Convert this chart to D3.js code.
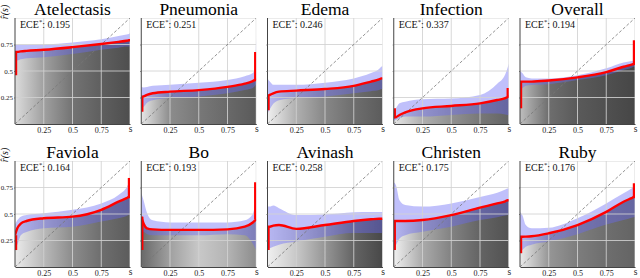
<!DOCTYPE html>
<html><head><meta charset="utf-8">
<script src="https://cdn.jsdelivr.net/npm/d3@7/dist/d3.min.js"></script>
<style>html,body{margin:0;padding:0;background:#fff;overflow:hidden}</style>
</head><body><svg id="c" width="640" height="278"></svg>
<script>
const titles = ["Atelectasis","Pneumonia","Edema","Infection","Overall","Faviola","Bo","Avinash","Christen","Ruby"];
const eceValues = ["0.195","0.251","0.246","0.337","0.194","0.164","0.193","0.258","0.175","0.176"];
const xGrid = [0, 0.02, 0.05, 0.1, 0.25, 0.5, 0.75, 0.9, 0.97, 0.99, 1];
const redCurves = [
  [0.68, 0.68, 0.685, 0.69, 0.70, 0.725, 0.755, 0.775, 0.785, 0.79, 0.79],
  [0.255, 0.26, 0.275, 0.29, 0.305, 0.32, 0.35, 0.38, 0.405, 0.415, 0.415],
  [0.26, 0.275, 0.29, 0.305, 0.315, 0.33, 0.36, 0.40, 0.42, 0.43, 0.43],
  [0.06, 0.065, 0.085, 0.11, 0.148, 0.17, 0.195, 0.226, 0.245, 0.255, 0.26],
  [0.40, 0.40, 0.40, 0.40, 0.41, 0.44, 0.49, 0.54, 0.56, 0.566, 0.57],
  [0.30, 0.365, 0.41, 0.434, 0.46, 0.475, 0.54, 0.616, 0.65, 0.66, 0.66],
  [0.475, 0.41, 0.365, 0.355, 0.35, 0.35, 0.355, 0.38, 0.42, 0.44, 0.45],
  [0.38, 0.38, 0.39, 0.396, 0.36, 0.396, 0.434, 0.45, 0.455, 0.455, 0.455],
  [0.434, 0.434, 0.434, 0.434, 0.443, 0.49, 0.56, 0.60, 0.62, 0.63, 0.63],
  [0.286, 0.286, 0.287, 0.29, 0.318, 0.396, 0.52, 0.616, 0.65, 0.66, 0.66]
];
const upperBands = [
  [0.745, 0.745, 0.745, 0.745, 0.75, 0.77, 0.80, 0.83, 0.845, 0.85, 0.855],
  [0.35, 0.345, 0.35, 0.36, 0.37, 0.39, 0.415, 0.45, 0.48, 0.55, 0.85],
  [0.43, 0.40, 0.37, 0.37, 0.37, 0.39, 0.43, 0.48, 0.52, 0.54, 0.55],
  [0.12, 0.15, 0.195, 0.21, 0.233, 0.24, 0.274, 0.38, 0.47, 0.53, 0.57],
  [0.50, 0.48, 0.44, 0.43, 0.43, 0.46, 0.525, 0.58, 0.595, 0.60, 0.60],
  [0.40, 0.44, 0.475, 0.49, 0.507, 0.54, 0.60, 0.68, 0.75, 0.79, 0.80],
  [0.70, 0.63, 0.51, 0.44, 0.42, 0.42, 0.42, 0.44, 0.50, 0.62, 0.76],
  [0.57, 0.57, 0.58, 0.555, 0.49, 0.495, 0.516, 0.52, 0.52, 0.52, 0.52],
  [0.80, 0.77, 0.63, 0.585, 0.57, 0.60, 0.66, 0.70, 0.73, 0.74, 0.74],
  [0.52, 0.49, 0.396, 0.365, 0.37, 0.46, 0.60, 0.695, 0.74, 0.755, 0.76]
];
const lowerBands = [
  [0.60, 0.60, 0.61, 0.62, 0.63, 0.66, 0.70, 0.72, 0.73, 0.73, 0.73],
  [0.15, 0.16, 0.20, 0.225, 0.245, 0.26, 0.29, 0.32, 0.34, 0.36, 0.38],
  [0.10, 0.14, 0.19, 0.225, 0.245, 0.26, 0.29, 0.31, 0.32, 0.33, 0.33],
  [0.03, 0.04, 0.055, 0.07, 0.07, 0.085, 0.10, 0.10, 0.09, 0.085, 0.085],
  [0.32, 0.337, 0.36, 0.368, 0.376, 0.415, 0.46, 0.51, 0.53, 0.54, 0.54],
  [0.17, 0.21, 0.30, 0.33, 0.365, 0.38, 0.43, 0.46, 0.48, 0.49, 0.49],
  [0.30, 0.33, 0.31, 0.30, 0.30, 0.30, 0.31, 0.30, 0.22, 0.18, 0.16],
  [0.16, 0.176, 0.19, 0.21, 0.24, 0.286, 0.32, 0.32, 0.32, 0.32, 0.32],
  [0.18, 0.21, 0.27, 0.30, 0.333, 0.38, 0.443, 0.47, 0.485, 0.49, 0.49],
  [0.14, 0.16, 0.19, 0.21, 0.24, 0.31, 0.40, 0.443, 0.465, 0.47, 0.475]
];
const redStarts = [0.46, 0.116, 0.13, 0.148, 0.148, 0.16, 0.16, 0.16, 0.16, 0.13];
const redEnds = [null, 0.68, null, 0.34, 0.79, 0.84, 0.80, null, null, 0.79];
const shadeStops = [0, 0.25, 0.5, 0.75, 1];
const shadeLevels = [
  [220, 160, 115, 95, 78],
  [230, 140, 120, 105, 90],
  [240, 175, 135, 110, 92],
  [230, 175, 145, 120, 100],
  [190, 110, 90, 80, 70],
  [235, 185, 140, 110, 92],
  [105, 160, 200, 180, 140],
  [240, 200, 150, 100, 72],
  [240, 170, 130, 100, 82],
  [235, 150, 125, 110, 100]
];
const xTickValues = [0.25, 0.5, 0.75, 1];
const xTickLabels = ["0.25", "0.5", "0.75", "s"];
const yTickValues = [0.25, 0.5, 0.75];
const yTickLabels = ["0.25", "0.5", "0.75"];

const FONT = "Liberation Serif, DejaVu Serif, serif";
const svg = d3.select("#c");
const defs = svg.append("defs");
const W = 115, H = 106;

titles.forEach((title, i) => {
  const col = i % 5, row = Math.floor(i / 5);
  const x0 = 15 + col * 126.25;
  const yBottom = row === 0 ? 124 : 267;
  const x = d3.scaleLinear().domain([0, 1]).range([x0, x0 + W]);
  const y = d3.scaleLinear().domain([0, 1]).range([yBottom, yBottom - H]);
  const g = svg.append("g");

  defs.append("clipPath").attr("id", "clip" + i)
    .append("rect").attr("x", x(0)).attr("y", y(1)).attr("width", W).attr("height", H);
  const grad = defs.append("linearGradient").attr("id", "grad" + i)
    .attr("gradientUnits", "userSpaceOnUse")
    .attr("x1", x(0)).attr("x2", x(1)).attr("y1", 0).attr("y2", 0);
  shadeStops.forEach((s, k) => {
    const v = shadeLevels[i][k];
    grad.append("stop").attr("offset", s).attr("stop-color", d3.rgb(v, v, v));
  });

  const pts = xGrid.map((xv, k) => ({x: xv, r: redCurves[i][k], lo: lowerBands[i][k], hi: upperBands[i][k]}));
  const inner = g.append("g").attr("clip-path", `url(#clip${i})`);

  inner.append("path").datum(pts)
    .attr("fill", `url(#grad${i})`)
    .attr("d", d3.area().curve(d3.curveMonotoneX).x(d => x(d.x)).y0(y(0)).y1(d => y(d.r)));

  inner.append("path").datum(pts)
    .attr("fill", "rgba(105,105,245,0.42)")
    .attr("d", d3.area().curve(d3.curveMonotoneX).x(d => x(d.x)).y0(d => y(d.lo)).y1(d => y(d.hi)));

  const gridX = xTickValues, gridY = yTickValues.concat([1]);
  inner.selectAll(".gx").data(gridX).join("line")
    .attr("x1", d => x(d)).attr("x2", d => x(d)).attr("y1", y(0)).attr("y2", y(1))
    .attr("stroke", "#d2d2d2").attr("stroke-width", 1).attr("opacity", 0.85);
  inner.selectAll(".gy").data(gridY).join("line")
    .attr("x1", x(0)).attr("x2", x(1)).attr("y1", d => y(d)).attr("y2", d => y(d))
    .attr("stroke", "#d2d2d2").attr("stroke-width", 1).attr("opacity", 0.85);

  inner.append("line").attr("x1", x(0)).attr("y1", y(0)).attr("x2", x(1)).attr("y2", y(1))
    .attr("stroke", "#777").attr("stroke-width", 0.8).attr("stroke-dasharray", "3,2");

  inner.append("path").datum(pts)
    .attr("fill", "none").attr("stroke", "#ff0000").attr("stroke-width", 2.4)
    .attr("d", d3.line().curve(d3.curveMonotoneX).x(d => x(d.x)).y(d => y(d.r)));
  inner.append("line").attr("x1", x(0) + 1).attr("x2", x(0) + 1)
    .attr("y1", y(redStarts[i])).attr("y2", y(redCurves[i][0]))
    .attr("stroke", "#ff0000").attr("stroke-width", 2.4);
  if (redEnds[i] !== null) {
    inner.append("line").attr("x1", x(1) - 1).attr("x2", x(1) - 1)
      .attr("y1", y(redCurves[i][xGrid.length - 1])).attr("y2", y(redEnds[i]))
      .attr("stroke", "#ff0000").attr("stroke-width", 2.4);
  }

  const ax = g.append("g").attr("transform", `translate(0,${y(0)})`)
    .call(d3.axisBottom(x).tickValues(xTickValues).tickFormat((d, k) => xTickLabels[k]).tickSize(0).tickPadding(3));
  ax.select(".domain").attr("stroke", "#444").attr("stroke-width", 1);
  ax.selectAll("text").attr("font-family", FONT).attr("font-size", 8).attr("fill", "#222");
  ax.selectAll("text").filter((d) => d === 1).attr("font-size", 9.5).attr("dy", "0.55em");

  const ay = g.append("g").attr("transform", `translate(${x(0)},0)`)
    .call(d3.axisLeft(y).tickValues(yTickValues)
      .tickFormat((d, k) => col === 0 ? yTickLabels[k] : "").tickSize(1).tickPadding(1));
  ay.select(".domain").attr("stroke", "#444").attr("stroke-width", 1)
    .attr("d", `M0,${y(1)}V${y(0)}`);
  ay.selectAll("line").attr("stroke", "#666");
  ay.selectAll("text").attr("font-family", FONT).attr("font-size", 7).attr("fill", "#222");

  g.append("text").attr("x", (x(0) + x(1)) / 2).attr("y", y(1) - 3)
    .attr("text-anchor", "middle").attr("font-family", FONT).attr("font-size", 17.5)
    .attr("fill", "#000").text(title);

  const t = g.append("text").attr("x", x(0) + 5).attr("y", y(1) + 10)
    .attr("font-family", FONT).attr("font-size", 10).attr("fill", "#111");
  t.append("tspan").text("ECE");
  t.append("tspan").attr("font-size", 6.5).attr("dy", -4).text("*");
  t.append("tspan").attr("dy", 4).text(": " + eceValues[i]);

  if (col === 0) {
    g.append("text").attr("transform", `translate(8,${y(1) - 6}) rotate(-90)`)
      .attr("text-anchor", "middle").attr("font-family", FONT).attr("font-size", 10)
      .attr("font-style", "italic").attr("fill", "#111").text("r\u0302(s)");
  }
});
</script></body></html>
